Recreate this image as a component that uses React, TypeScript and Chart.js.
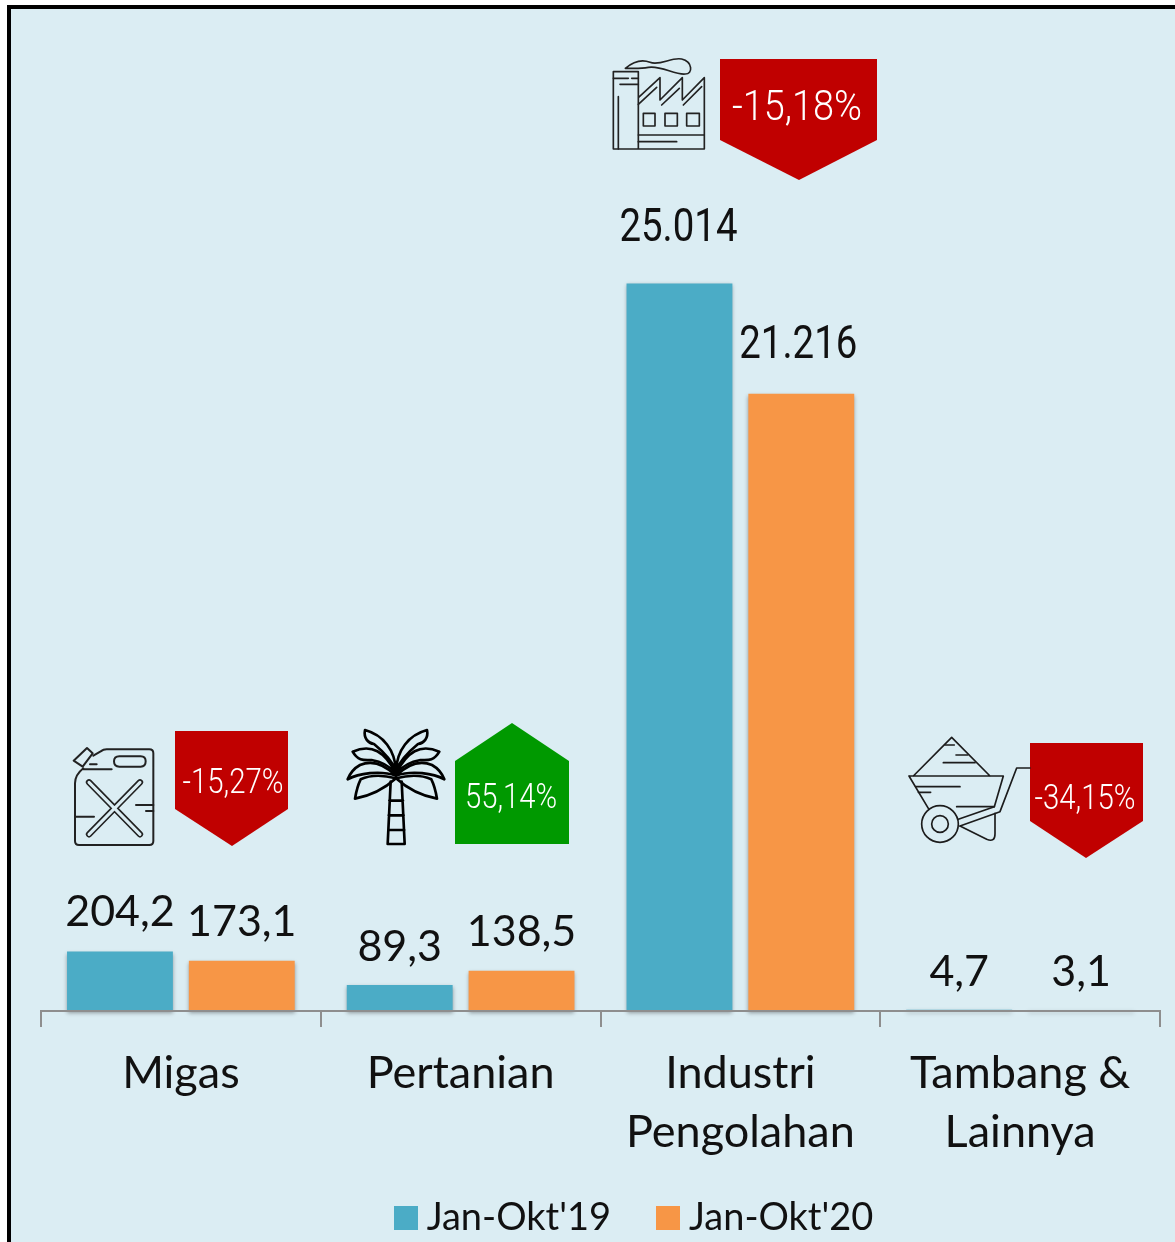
import React, { useEffect, useRef } from "react";
import { Chart, registerables } from "chart.js";

Chart.register(...registerables);

const categories: (string | string[])[] = ["Migas", "Pertanian", ["Industri", "Pengolahan"], ["Tambang &", "Lainnya"]];
const seriesNames = ["Jan-Okt'19", "Jan-Okt'20"];
// Bar heights as drawn in the picture (the first, second and last groups are plotted at ten times their label)
const plotted2019 = [2042, 893, 25014, 47];
const plotted2020 = [1731, 1385, 21216, 31];
const labels2019 = ["204,2", "89,3", "25.014", "4,7"];
const labels2020 = ["173,1", "138,5", "21.216", "3,1"];
const changes = ["-15,27%", "55,14%", "-15,18%", "-34,15%"];

const BLUE = "#4BACC6";
const ORANGE = "#F79646";
const RED = "#C00000";
const GREEN = "#009900";
const BG = "#DBEDF3";
const INK = "#111111";

function fitText(ctx: CanvasRenderingContext2D, text: string, cx: number, base: number, font: string, width: number, color: string) {
  ctx.save();
  ctx.font = font;
  ctx.fillStyle = color;
  ctx.textAlign = "center";
  ctx.textBaseline = "alphabetic";
  const natural = ctx.measureText(text).width;
  ctx.translate(cx, base);
  ctx.scale(width / natural, 1);
  ctx.fillText(text, 0, 0);
  ctx.restore();
}

function poly(ctx: CanvasRenderingContext2D, pts: number[][], color: string) {
  ctx.beginPath();
  pts.forEach((p, i) => (i ? ctx.lineTo(p[0], p[1]) : ctx.moveTo(p[0], p[1])));
  ctx.closePath();
  ctx.fillStyle = color;
  ctx.fill();
}

function strokePath(ctx: CanvasRenderingContext2D, d: string) {
  ctx.stroke(new Path2D(d));
}

function icon(ctx: CanvasRenderingContext2D, x: number, y: number, lw: number, color: string, draw: () => void) {
  ctx.save();
  ctx.translate(x, y);
  ctx.scale(1 / 3, 1 / 3);
  ctx.lineWidth = lw;
  ctx.strokeStyle = color;
  ctx.lineJoin = "round";
  ctx.lineCap = "round";
  draw();
  ctx.restore();
}

function drawCan(ctx: CanvasRenderingContext2D) {
  icon(ctx, 40, 710, 6, "#222222", () => {
    strokePath(ctx, "M160,137 L182,124 Q190,118 200,118 L328,118 Q340,118 340,130 L340,393 Q340,405 328,405 L117,405 Q105,405 105,393 L105,220 Q105,195 130,175");
    strokePath(ctx, "M141,114 L158,130 L128,170 L101,152 Z");
    strokePath(ctx, "M238,139 L302,139 Q317,139 317,154 Q317,170 302,170 L238,170 Q222,170 222,154 Q222,139 238,139 Z");
    strokePath(ctx, "M130,178 L215,178 M150,163 L170,163 M288,285 L340,285 M318,303 L340,303 M105,320 L162,320");
    const cross = "M147,217 L300,373 M300,217 L147,373";
    ctx.lineWidth = 19;
    strokePath(ctx, cross);
    ctx.lineWidth = 9;
    ctx.strokeStyle = BG;
    strokePath(ctx, cross);
  });
}

function drawPalm(ctx: CanvasRenderingContext2D) {
  icon(ctx, 330, 710, 8, "#000000", () => {
    const left = [
      "M198,182 C195,120 160,75 105,60 C100,85 115,100 132,102 C160,125 185,150 198,182 Z",
      "M198,190 C165,125 125,100 68,125 C85,155 105,150 125,150 C155,155 180,170 198,190 Z",
      "M198,197 C160,160 125,150 90,165 C72,175 60,190 53,208 C85,190 150,180 198,197 Z",
      "M198,205 C160,195 120,195 92,208 C82,228 78,248 75,266 C120,258 165,235 198,205 Z",
    ];
    for (const d of left) strokePath(ctx, d);
    ctx.save();
    ctx.translate(396, 0);
    ctx.scale(-1, 1);
    for (const d of left) strokePath(ctx, d);
    ctx.restore();
    strokePath(ctx, "M182,215 L173,402 L224,402 L215,215 M178,272 L219,272 M176,316 L221,316 M175,360 L223,360");
  });
}

function drawFactory(ctx: CanvasRenderingContext2D) {
  icon(ctx, 600, 45, 5, "#222222", () => {
    strokePath(ctx, "M40,312 L40,80 L115,80 L115,312 M40,312 L313,312 L313,98 L247,165 L247,98 L180,165 L180,98 L115,158");
    strokePath(ctx, "M40,100 L85,100 M95,100 L115,100 M60,118 L115,118 M55,155 L55,312");
    strokePath(ctx, "M115,178 L170,127 M185,180 L238,130 M250,180 L305,125");
    strokePath(ctx, "M130,205 L165,205 L165,243 L130,243 Z M195,205 L232,205 L232,243 L195,243 Z M260,205 L298,205 L298,243 L260,243 Z");
    strokePath(ctx, "M115,270 L313,270 M115,290 L230,290");
    strokePath(ctx, "M76,70 C100,50 125,42 150,52 C180,64 215,35 245,42 C278,50 280,88 255,87 C225,90 180,60 145,67 C120,72 100,70 76,70");
  });
}

function drawBarrow(ctx: CanvasRenderingContext2D) {
  icon(ctx, 895, 730, 5, "#1c1c1c", () => {
    strokePath(ctx, "M55,138 L170,22 L285,138 M42,138 L325,138 L298,230 L190,268 M42,138 L100,235");
    strokePath(ctx, "M150,45 L178,45 M183,75 L218,75 M145,98 L240,98 M62,170 L195,170 M70,187 L107,187 M185,230 L298,230");
    strokePath(ctx, "M195,288 L315,245 L365,114 L405,114");
    strokePath(ctx, "M195,288 L275,328 Q300,338 300,312 L300,250");
    ctx.beginPath();
    ctx.arc(135, 282, 55, 0, Math.PI * 2);
    ctx.stroke();
    ctx.beginPath();
    ctx.arc(135, 282, 25, 0, Math.PI * 2);
    ctx.stroke();
  });
}

const barShadow = {
  id: "barShadow",
  beforeDatasetsDraw(chart: any) {
    const c = chart.ctx;
    c.save();
    c.shadowColor = "rgba(0,0,0,0.35)";
    c.shadowBlur = 4;
    c.shadowOffsetY = 2;
  },
  afterDatasetsDraw(chart: any) {
    chart.ctx.restore();
  },
};

// extra gap above a bar, and x nudge, for each group's value labels
const labelStyle = [
  { big: false, gap: [25.5, 24.5], dx: [0, 0] },
  { big: false, gap: [24.5, 24.5], dx: [0, 0] },
  { big: true, gap: [42, 35.5], dx: [-1, -3] },
  { big: false, gap: [24, 24], dx: [0, 0] },
];

const annotations = {
  id: "annotations",
  afterDraw(chart: any) {
    const c: CanvasRenderingContext2D = chart.ctx;
    [labels2019, labels2020].forEach((labels, ds) => {
      const meta = chart.getDatasetMeta(ds);
      labels.forEach((text, i) => {
        const el = meta.data[i];
        const st = labelStyle[i];
        const x = el.x + st.dx[ds];
        const y = el.y - st.gap[ds];
        if (st.big) {
          fitText(c, text, x, y, "400 46px Roboto", 118, INK);
        } else {
          c.save();
          c.font = "400 43px Lato";
          c.fillStyle = INK;
          c.textAlign = "center";
          c.textBaseline = "alphabetic";
          c.fillText(text, x, y);
          c.restore();
        }
      });
    });

    poly(c, [[175, 731], [288, 731], [288, 809], [232, 846], [175, 809]], RED);
    poly(c, [[455, 761], [512, 723], [569, 761], [569, 844], [455, 844]], GREEN);
    poly(c, [[720, 59], [877, 59], [877, 140], [799, 180], [720, 140]], RED);
    poly(c, [[1030, 743], [1143, 743], [1143, 821], [1086, 858], [1030, 821]], RED);

    fitText(c, changes[0], 233, 793, "300 35px Roboto", 101, "#FFFFFF");
    fitText(c, changes[1], 511, 808, "300 35px Roboto", 92, "#FFFFFF");
    fitText(c, changes[2], 797, 120, "300 43px Roboto", 130, "#FFFFFF");
    fitText(c, changes[3], 1085, 809, "300 35px Roboto", 101, "#FFFFFF");

    drawCan(c);
    drawPalm(c);
    drawFactory(c);
    drawBarrow(c);
  },
};

const placeLegend = {
  id: "placeLegend",
  afterLayout(chart: any) {
    const l = chart.legend;
    const shift = 625 - 587;
    l.top = 1144;
    l.left += shift;
    l.right += shift;
    // the axis labels run down past the slot the legend's wide padding leaves them
    chart.scales.x.bottom = chart.height;
  },
};

function swatch(color: string) {
  const s = document.createElement("canvas");
  s.width = 24;
  s.height = 24;
  const g = s.getContext("2d")!;
  g.fillStyle = color;
  g.fillRect(0, 0, 24, 24);
  return s;
}

export default function App() {
  const ref = useRef<HTMLCanvasElement>(null);
  useEffect(() => {
    const chart = new Chart(ref.current!, {
      type: "bar",
      data: {
        labels: categories as any,
        datasets: [
          { label: seriesNames[0], data: plotted2019, backgroundColor: BLUE, clip: false as any },
          { label: seriesNames[1], data: plotted2020, backgroundColor: ORANGE, clip: false as any },
        ],
      },
      plugins: [barShadow, annotations, placeLegend],
      options: {
        animation: false,
        responsive: false,
        devicePixelRatio: 1,
        layout: { padding: { left: 41, right: 15, top: 22, bottom: 0 } },
        datasets: { bar: { categoryPercentage: 0.871, barPercentage: 0.869 } },
        plugins: {
          tooltip: { enabled: false },
          legend: {
            position: "bottom",
            labels: {
              usePointStyle: true,
              pointStyleWidth: 4,
              padding: 55,
              color: INK,
              font: { family: "Lato", size: 38 },
              generateLabels: () =>
                seriesNames.map((text, i) => ({
                  text,
                  datasetIndex: i,
                  fillStyle: i ? ORANGE : BLUE,
                  strokeStyle: i ? ORANGE : BLUE,
                  lineWidth: 0,
                  fontColor: INK,
                  pointStyle: swatch(i ? ORANGE : BLUE) as any,
                })),
            },
          },
        },
        scales: {
          x: {
            offset: true,
            afterFit(scale: any) {
              scale.height = 128;
            },
            grid: { display: true, drawOnChartArea: false, drawTicks: true, tickLength: 16, color: "#8E8E8E", lineWidth: 2, offset: true },
            border: { display: true, color: "#8E8E8E", width: 2, z: 1 },
            ticks: {
              autoSkip: false,
              maxRotation: 0,
              padding: 17,
              color: INK,
              font: { family: "Lato", size: 45, lineHeight: 1.31 },
            },
          },
          y: { display: false, min: 0, max: 34000 },
        },
      },
    });
    return () => chart.destroy();
  }, []);

  return (
    <div style={{ position: "fixed", left: 0, top: 0, width: 1175, height: 1242, overflow: "hidden", background: "#FFFFFF" }}>
      <div style={{ position: "absolute", left: 7, top: 5, right: 0, bottom: 0, background: BG, borderLeft: "4px solid #000", borderTop: "4px solid #000" }} />
      <canvas ref={ref} width={1175} height={1242} style={{ position: "absolute", left: 0, top: 0, display: "block" }} />
    </div>
  );
}
